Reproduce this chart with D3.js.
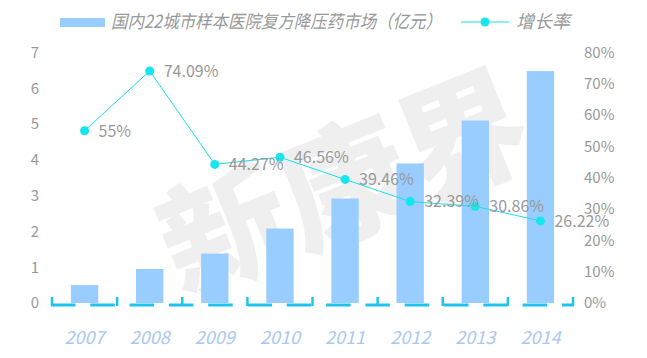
<!DOCTYPE html>
<html><head><meta charset="utf-8">
<script src="https://cdn.jsdelivr.net/npm/d3@7"></script>
<style>html,body{margin:0;padding:0;background:#fff;}svg{display:block;}</style>
</head><body>
<svg id="chart" width="647" height="358"></svg>
<script>
const years = ["2007","2008","2009","2010","2011","2012","2013","2014"];
const marketValues = [0.5, 0.95, 1.38, 2.08, 2.92, 3.9, 5.1, 6.48];
const growthRates = [55, 74.09, 44.27, 46.56, 39.46, 32.39, 30.86, 26.22];
const growthLabels = ["55%","74.09%","44.27%","46.56%","39.46%","32.39%","30.86%","26.22%"];
const leftTicks = [0,1,2,3,4,5,6,7];
const rightTicks = [0,10,20,30,40,50,60,70,80];
const barName = "国内22城市样本医院复方降压药市场（亿元）";
const lineName = "增长率";

const font = "'Noto Sans CJK SC','Noto Sans',sans-serif";
const svg = d3.select("#chart");

const x = d3.scaleBand().domain(years).range([52, 573]).paddingInner(0.58).paddingOuter(0.29);
const yL = d3.scaleLinear().domain([0, 7]).range([303, 52.5]);
const yR = d3.scaleLinear().domain([0, 80]).range([303, 52.5]);

// watermark
svg.append("text")
  .attr("transform", "translate(362,228) rotate(-22)")
  .attr("text-anchor", "middle")
  .attr("font-family", font).attr("font-weight", 900)
  .attr("font-size", 128).attr("fill", "#efefef")
  .text("新康界");

// bars
svg.append("g").selectAll("rect").data(years).join("rect")
  .attr("x", d => x(d))
  .attr("width", x.bandwidth())
  .attr("y", (d, i) => yL(marketValues[i]))
  .attr("height", (d, i) => yL(0) - yL(marketValues[i]))
  .attr("fill", "#99ccff");

// left axis
const axL = svg.append("g").attr("transform", "translate(39,0)")
  .call(d3.axisLeft(yL).tickValues(leftTicks).tickSize(0).tickPadding(0).tickFormat(d3.format("d")));
axL.select(".domain").remove();
axL.selectAll("text").attr("font-family", font).attr("font-size", 15).attr("fill", "#999");

// right axis
const axR = svg.append("g").attr("transform", "translate(584,0)")
  .call(d3.axisRight(yR).tickValues(rightTicks).tickSize(0).tickPadding(0).tickFormat(d => d + "%"));
axR.select(".domain").remove();
axR.selectAll("text").attr("font-family", font).attr("font-size", 15).attr("fill", "#999");

// bottom axis: dashed thick line with inward ticks
const axB = svg.append("g").attr("transform", "translate(0,305)")
  .call(d3.axisBottom(x).tickSize(0).tickPadding(26));
axB.select(".domain").remove();
axB.selectAll("text").attr("font-family", font).attr("font-size", 18)
  .attr("font-style", "italic").attr("fill", "#a9c9f1");
svg.append("line").attr("x1", 51).attr("x2", 574).attr("y1", 305).attr("y2", 305)
  .attr("stroke", "#1ec3ee").attr("stroke-width", 3).attr("stroke-dasharray", "24.5,14.8");
const bnd = years.map((d, i) => i === 0 ? x.range()[0] : x(d) - x.step() * x.paddingInner() / 2)
  .concat([x.range()[1]]);
svg.append("g").selectAll("line").data(bnd).join("line")
  .attr("x1", d => d).attr("x2", d => d).attr("y1", 297).attr("y2", 306)
  .attr("stroke", "#1ec3ee").attr("stroke-width", 2.5);

// growth line
const cx = d => x(d) + x.bandwidth() / 2;
const line = d3.line().x((d, i) => cx(years[i])).y(d => yR(d));
svg.append("path").datum(growthRates).attr("d", line)
  .attr("fill", "none").attr("stroke", "#19e0ea").attr("stroke-width", 1);
svg.append("g").selectAll("circle").data(growthRates).join("circle")
  .attr("cx", (d, i) => cx(years[i])).attr("cy", d => yR(d)).attr("r", 4.5)
  .attr("fill", "#16e6ee");
svg.append("g").selectAll("text").data(growthRates).join("text")
  .attr("x", (d, i) => cx(years[i]) + 14).attr("y", d => yR(d))
  .attr("dy", "0.36em")
  .attr("font-family", font).attr("font-size", 16).attr("fill", "#999")
  .text((d, i) => growthLabels[i]);

// legend
const lg = svg.append("g");
lg.append("rect").attr("x", 60).attr("y", 18).attr("width", 45).attr("height", 9).attr("fill", "#99ccff");
lg.append("text").attr("x", 111).attr("y", 22).attr("dy", "0.36em")
  .attr("font-family", font).attr("font-size", 18).attr("font-style", "italic").attr("fill", "#999")
  .attr("textLength", 331).attr("lengthAdjust", "spacingAndGlyphs")
  .text(barName);
lg.append("line").attr("x1", 461).attr("x2", 509).attr("y1", 22).attr("y2", 22)
  .attr("stroke", "#19e0ea").attr("stroke-width", 1);
lg.append("circle").attr("cx", 485).attr("cy", 22).attr("r", 4.5).attr("fill", "#16e6ee");
lg.append("text").attr("x", 516).attr("y", 22).attr("dy", "0.36em")
  .attr("font-family", font).attr("font-size", 18).attr("font-style", "italic").attr("fill", "#999")
  .text(lineName);
</script>
</body></html>
